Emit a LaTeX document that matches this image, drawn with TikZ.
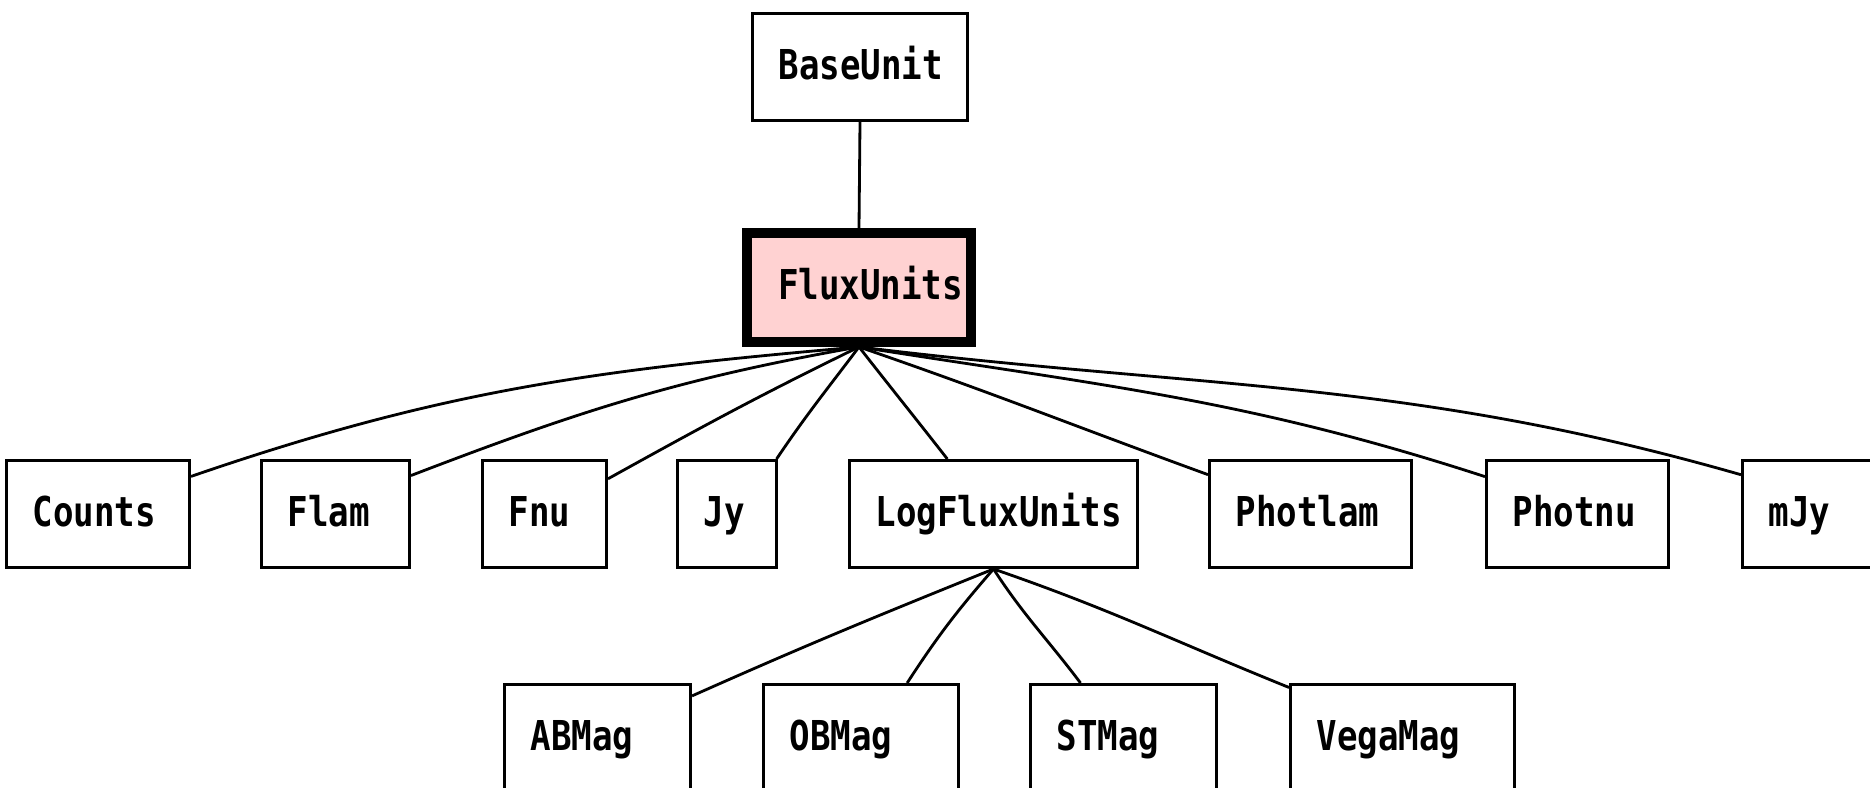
\documentclass[tikz,border=0pt]{standalone}
\usepackage{fontspec}
\usepackage{xcolor}
\newfontfamily\unitfont{DejaVu Sans Mono}[FakeStretch=0.83]
\definecolor{fluxpink}{RGB}{255,210,210}

\begin{document}
\begin{tikzpicture}[line width=0.8pt]
  \tikzstyle{unit}=[draw,line width=0.85pt,fill=white,minimum height=1.07cm,inner xsep=0.26cm,
    align=left,text height=0.31cm,text depth=0.07cm,
    font=\unitfont\bfseries\fontsize{11.7pt}{14pt}\selectfont]
  \tikzstyle{current}=[unit,line width=2.8pt,fill=fluxpink,minimum height=1.09cm,inner xsep=0.31cm]
  \useasboundingbox (0,0) rectangle (18.7,-7.88);
  \node[unit,text width=1.63cm] (base) at (8.60,-0.67) {BaseUnit};
  \node[current,text width=1.62cm] (flux) at (8.59,-2.875) {FluxUnits};
  % second row
  \node[unit,text width=1.31cm] (counts) at (0.98,-5.14) {Counts};
  \node[unit,text width=0.96cm] (flam) at (3.355,-5.14) {Flam};
  \node[unit,text width=0.72cm] (fnu) at (5.445,-5.14) {Fnu};
  \node[unit,text width=0.47cm] (jy) at (7.27,-5.14) {Jy};
  \node[unit,text width=2.36cm] (logflux) at (9.935,-5.14) {LogFluxUnits};
  \node[unit,text width=1.50cm] (photlam) at (13.105,-5.14) {Photlam};
  \node[unit,text width=1.30cm] (photnu) at (15.775,-5.14) {Photnu};
  \node[unit,text width=1.30cm] (mjy) at (18.335,-5.14) {mJy};
  % third row
  \node[unit,text width=1.34cm] (abmag) at (5.975,-7.38) {ABMag};
  \node[unit,text width=1.43cm] (obmag) at (8.61,-7.38) {OBMag};
  \node[unit,text width=1.34cm] (stmag) at (11.235,-7.38) {STMag};
  \node[unit,text width=1.72cm] (vegamag) at (14.025,-7.38) {VegaMag};
  \draw (base.south) -- (flux.north);
  \draw (flux.south) to[out=185,in=19] (counts.22);
  \draw (flux.south) to[out=190,in=21] (flam.27);
  \draw (flux.south) to[out=206,in=29] (fnu.29);
  \draw (flux.south) to[out=233,in=56] (jy.48);
  \draw (flux.south) to[out=-52,in=128] (logflux.130);
  \draw (flux.south) to[out=-19,in=160] (photlam.159);
  \draw (flux.south) to[out=-9,in=162] (photnu.158);
  \draw (flux.south) to[out=-7,in=164] (mjy.157);
  \draw (logflux.south) to[out=202,in=24] (abmag.24);
  \draw (logflux.south) to[out=229,in=57] (obmag.50);
  \draw (logflux.south) to[out=-57,in=127] (stmag.128);
  \draw (logflux.south) to[out=-19,in=158] (vegamag.156);
\end{tikzpicture}
\end{document}
